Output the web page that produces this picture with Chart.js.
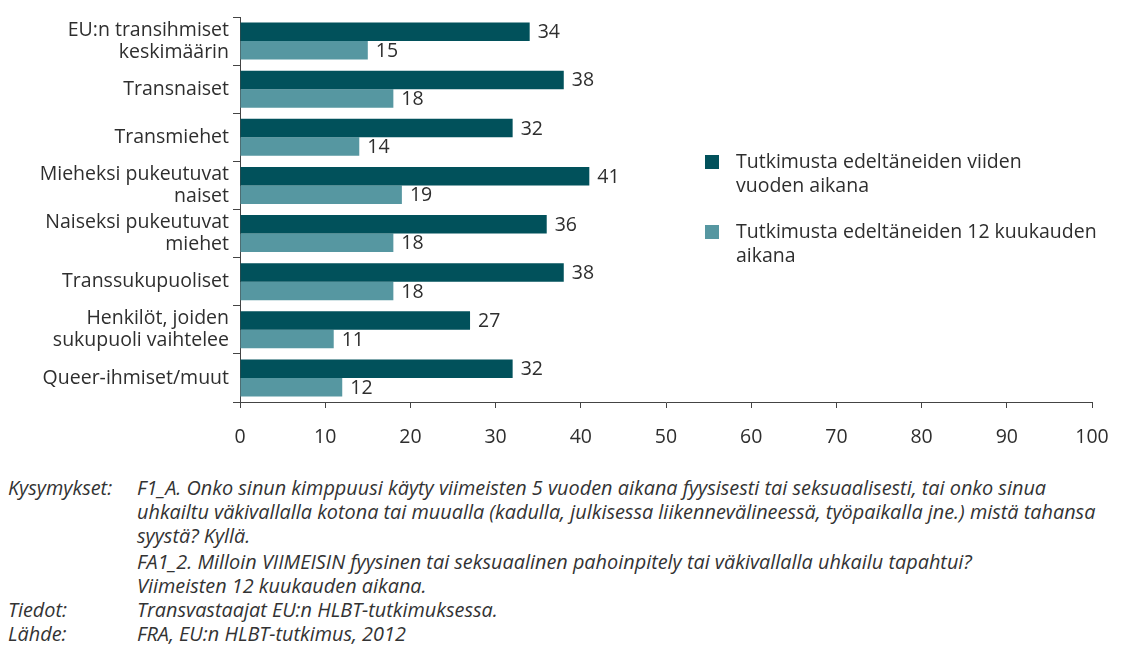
<!DOCTYPE html>
<html>
<head>
<meta charset="utf-8">
<script src="https://cdn.jsdelivr.net/npm/chart.js@4.4.0/dist/chart.umd.min.js"></script>
<style>
  body { margin: 0; background: #fff; width: 1128px; height: 651px; overflow: hidden; }
  #wrap { position: absolute; left: 0; top: 0; width: 1128px; height: 460px; }
  #notes {
    position: absolute; left: 8px; top: 476px;
    font-family: "Open Sans", sans-serif;
    font-style: italic; font-size: 18px; line-height: 24px; color: #333;
  }
  #notes .row { display: flex; white-space: nowrap; }
  #notes .lbl { width: 129px; flex: none; }
  #notes .gap { margin-top: 2px; }
  #notes .line { display: block; }
</style>
</head>
<body>
<div id="wrap"><canvas id="myChart"></canvas></div>
<div id="notes">
  <div class="row"><div class="lbl">Kysymykset:</div><div>
    <span class="line" id="firstLine">F1_A. Onko sinun kimppuusi käyty viimeisten 5 vuoden aikana fyysisesti tai seksuaalisesti, tai onko sinua</span>
    <span class="line">uhkailtu väkivallalla kotona tai muualla (kadulla, julkisessa liikennevälineessä, työpaikalla jne.) mistä tahansa</span>
    <span class="line">syystä? Kyllä.</span>
    <span class="line gap">FA1_2. Milloin VIIMEISIN fyysinen tai seksuaalinen pahoinpitely tai väkivallalla uhkailu tapahtui?</span>
    <span class="line">Viimeisten 12 kuukauden aikana.</span>
  </div></div>
  <div class="row"><div class="lbl">Tiedot:</div><div>Transvastaajat EU:n HLBT-tutkimuksessa.</div></div>
  <div class="row"><div class="lbl">Lähde:</div><div>FRA, EU:n HLBT-tutkimus, 2012</div></div>
</div>
<script>
// Data
const categories = [
  ["EU:n transihmiset", "keskimäärin"],
  "Transnaiset",
  "Transmiehet",
  ["Mieheksi pukeutuvat", "naiset"],
  ["Naiseksi pukeutuvat", "miehet"],
  "Transsukupuoliset",
  ["Henkilöt, joiden", "sukupuoli vaihtelee"],
  "Queer-ihmiset/muut",
];
const fiveYears = [34, 38, 32, 41, 36, 38, 27, 32];
const twelveMonths = [15, 18, 14, 19, 18, 18, 11, 12];
const seriesLabels = [
  ["Tutkimusta edeltäneiden viiden", "vuoden aikana"],
  ["Tutkimusta edeltäneiden 12 kuukauden", "aikana"],
];
const xMin = 0;
const xMax = 100;
const xStep = 10;

const darkColor = "rgb(1, 81, 91)";
const lightColor = "rgb(86, 151, 161)";
const textColor = "#2e2e2e";
const axisColor = "#444444";
const fontFamily = "'Open Sans', sans-serif";
const fontSize = 19.5;

// Fit the footnote font so the first line is as wide as in the reference
const firstLine = document.getElementById("firstLine");
const notes = document.getElementById("notes");
const range = document.createRange();
range.selectNodeContents(firstLine);
const textWidth = range.getBoundingClientRect().width;
notes.style.fontSize = (18 * 910 / textWidth).toFixed(2) + "px";

// Value labels at the end of each bar
const valueLabels = {
  id: "valueLabels",
  afterDatasetsDraw(chart) {
    const ctx = chart.ctx;
    ctx.save();
    ctx.font = fontSize + "px " + fontFamily;
    ctx.fillStyle = textColor;
    ctx.textAlign = "left";
    ctx.textBaseline = "middle";
    chart.data.datasets.forEach((ds, i) => {
      chart.getDatasetMeta(i).data.forEach((bar, j) => {
        ctx.fillText(ds.data[j], bar.x + 8, bar.y + 1);
      });
    });
    ctx.restore();
  },
};

// Legend with wrapped text, placed inside the empty right part of the plot
const sideLegend = {
  id: "sideLegend",
  afterDraw(chart) {
    const ctx = chart.ctx;
    ctx.save();
    ctx.font = fontSize + "px " + fontFamily;
    ctx.textBaseline = "middle";
    const x = 705;
    let y = 162;
    chart.data.datasets.forEach((ds) => {
      ctx.fillStyle = ds.backgroundColor;
      ctx.fillRect(x, y - 7, 14, 14);
      ctx.fillStyle = textColor;
      ds.label.forEach((line, k) => {
        ctx.fillText(line, x + 31, y + k * 24);
      });
      y += 70;
    });
    ctx.restore();
  },
};

const ctx = document.getElementById("myChart").getContext("2d");
const chart = new Chart(ctx, {
  type: "bar",
  data: {
    labels: categories,
    datasets: [
      {
        label: seriesLabels[0],
        data: fiveYears,
        backgroundColor: darkColor,
        categoryPercentage: 0.77,
        barPercentage: 1.0,
      },
      {
        label: seriesLabels[1],
        data: twelveMonths,
        backgroundColor: lightColor,
        categoryPercentage: 0.77,
        barPercentage: 1.0,
      },
    ],
  },
  options: {
    indexAxis: "y",
    responsive: true,
    maintainAspectRatio: false,
    animation: false,
    layout: { padding: { top: 17, right: 36, left: 0, bottom: 0 } },
    plugins: {
      legend: { display: false },
      tooltip: { enabled: false },
    },
    scales: {
      x: {
        min: xMin,
        max: xMax,
        ticks: {
          stepSize: xStep,
          color: textColor,
          font: { family: fontFamily, size: fontSize },
          padding: 18,
          maxRotation: 0,
        },
        grid: {
          drawOnChartArea: false,
          tickLength: 6,
          tickColor: axisColor,
        },
        border: { color: axisColor, width: 1 },
        afterFit(scale) {
          scale.height = 58;
        },
      },
      y: {
        ticks: {
          color: textColor,
          font: { family: fontFamily, size: fontSize, lineHeight: 1.12 },
          padding: 4,
          autoSkip: false,
        },
        grid: {
          offset: true,
          drawOnChartArea: false,
          tickLength: 7,
          tickColor: axisColor,
        },
        border: { color: axisColor, width: 1 },
        afterFit(scale) {
          scale.width = 240;
        },
      },
    },
  },
  plugins: [valueLabels, sideLegend],
});
</script>
</body>
</html>
